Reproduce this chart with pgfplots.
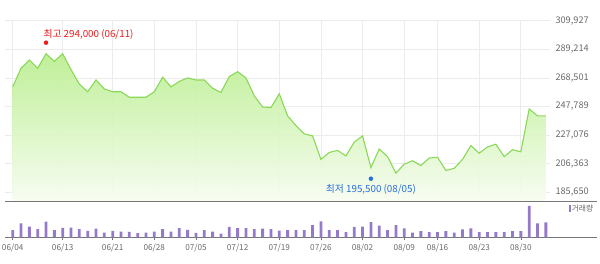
\documentclass[border=0pt]{standalone}
\usepackage{fontspec}
\setmainfont{Noto Sans CJK KR}
\usepackage{pgfplots}
\pgfplotsset{compat=1.18}
\usepackage{pgfplotstable}

\definecolor{linegreen}{RGB}{138,216,88}
\definecolor{filltop}{RGB}{186,238,144}
\definecolor{fillbot}{RGB}{247,253,241}
\definecolor{volpurple}{RGB}{150,122,202}
\definecolor{gridc}{RGB}{236,236,236}
\definecolor{labc}{RGB}{105,105,105}
\definecolor{sepc}{RGB}{120,120,120}
\definecolor{hired}{RGB}{240,25,25}
\definecolor{loblue}{RGB}{40,110,220}

\pgfplotstableread{
idx price vol
0 262000 7300
1 275500 14000
2 281500 10700
3 275500 8200
4 286000 15800
5 280500 7300
6 286000 9400
7 274500 9800
8 264000 8200
9 258500 6500
10 267000 8800
11 260500 4700
12 258500 6500
13 258500 5700
14 254500 5500
15 254500 4300
16 254500 4700
17 258500 5700
18 269000 8200
19 262000 5800
20 266000 9200
21 268500 7500
22 267000 4500
23 267000 7200
24 261000 5700
25 258000 3700
26 269500 10500
27 273000 9200
28 268500 9200
29 255500 8200
30 247500 8700
31 247000 8200
32 257000 6700
33 241000 7300
34 234000 7300
35 228000 7300
36 226500 12300
37 209500 16000
38 214500 7300
39 216000 7300
40 212000 5300
41 222000 10500
42 226500 10700
43 203500 15200
44 217000 11700
45 211500 7300
46 199500 12300
47 206000 9000
48 208500 4700
49 205000 6300
50 210500 5300
51 211000 5300
52 201500 6300
53 203000 4700
54 209500 8000
55 219500 9000
56 214000 5300
57 218500 5300
58 220500 5300
59 211500 5300
60 216500 6300
61 215000 6300
62 246000 31300
63 241000 14000
64 241000 15000
}\data

\begin{document}
\begin{tikzpicture}[x=1pt,y=1pt]
\path[use as bounding box] (0,0) rectangle (600,263);
% ---------- price panel ----------
\begin{axis}[
  at={(5pt,62pt)}, anchor=south west,
  scale only axis, width=545pt, height=180.3pt,
  xmin=-0.924, xmax=64.5,
  ymin=179354, ymax=309927,
  scaled y ticks=false,
  axis line style={draw=none},
  major tick length=0pt,
  xtick={0,6,12,17,22,27,32,37,42,47,51,56,61},
  xticklabels={},
  ytick={185650,206363,227076,247789,268501,289214,309927},
  yticklabels={{185,650},{206,363},{227,076},{247,789},{268,501},{289,214},{309,927}},
  yticklabel pos=right,
  yticklabel style={anchor=west, xshift=2pt, text=labc, font=\fontsize{9.2}{10}\selectfont},
  grid=major,
  grid style={gridc, line width=0.8pt},
]
\addplot[draw=none, top color=filltop, bottom color=fillbot, fill opacity=0.92]
  table[x=idx, y=price] {\data} -- (axis cs:64,179354) -- (axis cs:0,179354) -- cycle;
\addplot[linegreen, line width=1.1pt, mark=none] table[x=idx, y=price] {\data};
\addplot[only marks, mark=*, mark size=2pt, color=hired,
  nodes near coords={최고 294,000 (06/11)},
  nodes near coords style={anchor=west, inner sep=0pt, xshift=-2.7pt, yshift=8.4pt,
    text=hired, font=\fontsize{9.8}{10}\selectfont}]
  coordinates {(4,294000)};
\addplot[only marks, mark=*, mark size=2pt, color=loblue,
  nodes near coords={최저 195,500 (08/05)},
  nodes near coords style={anchor=center, inner sep=0pt, yshift=-11pt,
    text=loblue, font=\fontsize{9.8}{10}\selectfont}]
  coordinates {(43,195500)};
\end{axis}
% ---------- volume panel ----------
\begin{axis}[
  at={(5pt,25.7pt)}, anchor=south west,
  scale only axis, width=592pt, height=36.3pt,
  xmin=-0.924, xmax=70.14,
  ymin=0, ymax=36300,
  axis x line=box, axis y line=none,
  axis line style={sepc, line width=0.8pt},
  xtick={0,6,12,17,22,27,32,37,42,47,51,56,61},
  xticklabels={06/04,06/13,06/21,06/28,07/05,07/12,07/19,07/26,08/02,08/09,08/16,08/23,08/30},
  xtick pos=bottom,
  tick align=outside,
  major tick length=3pt,
  tick style={sepc, line width=0.6pt},
  xticklabel style={text=labc, font=\fontsize{8.2}{9}\selectfont},
  ytick=\empty,
  legend style={at={(rel axis cs:1,1)}, anchor=north east, xshift=-3pt, yshift=-3pt,
    draw=none, fill=none, inner sep=0pt, text=labc,
    font=\fontsize{7.8}{8}\selectfont,
    nodes={inner sep=0.5pt}},
  legend cell align=left,
]
\addplot[ybar, bar width=2.8pt, fill=volpurple, draw=none,
  legend image code/.code={\fill[volpurple] (0pt,-3.5pt) rectangle (2.3pt,3.5pt);}]
  table[x=idx, y=vol] {\data};
\addlegendentry{거래량}
\end{axis}
\end{tikzpicture}
\end{document}
